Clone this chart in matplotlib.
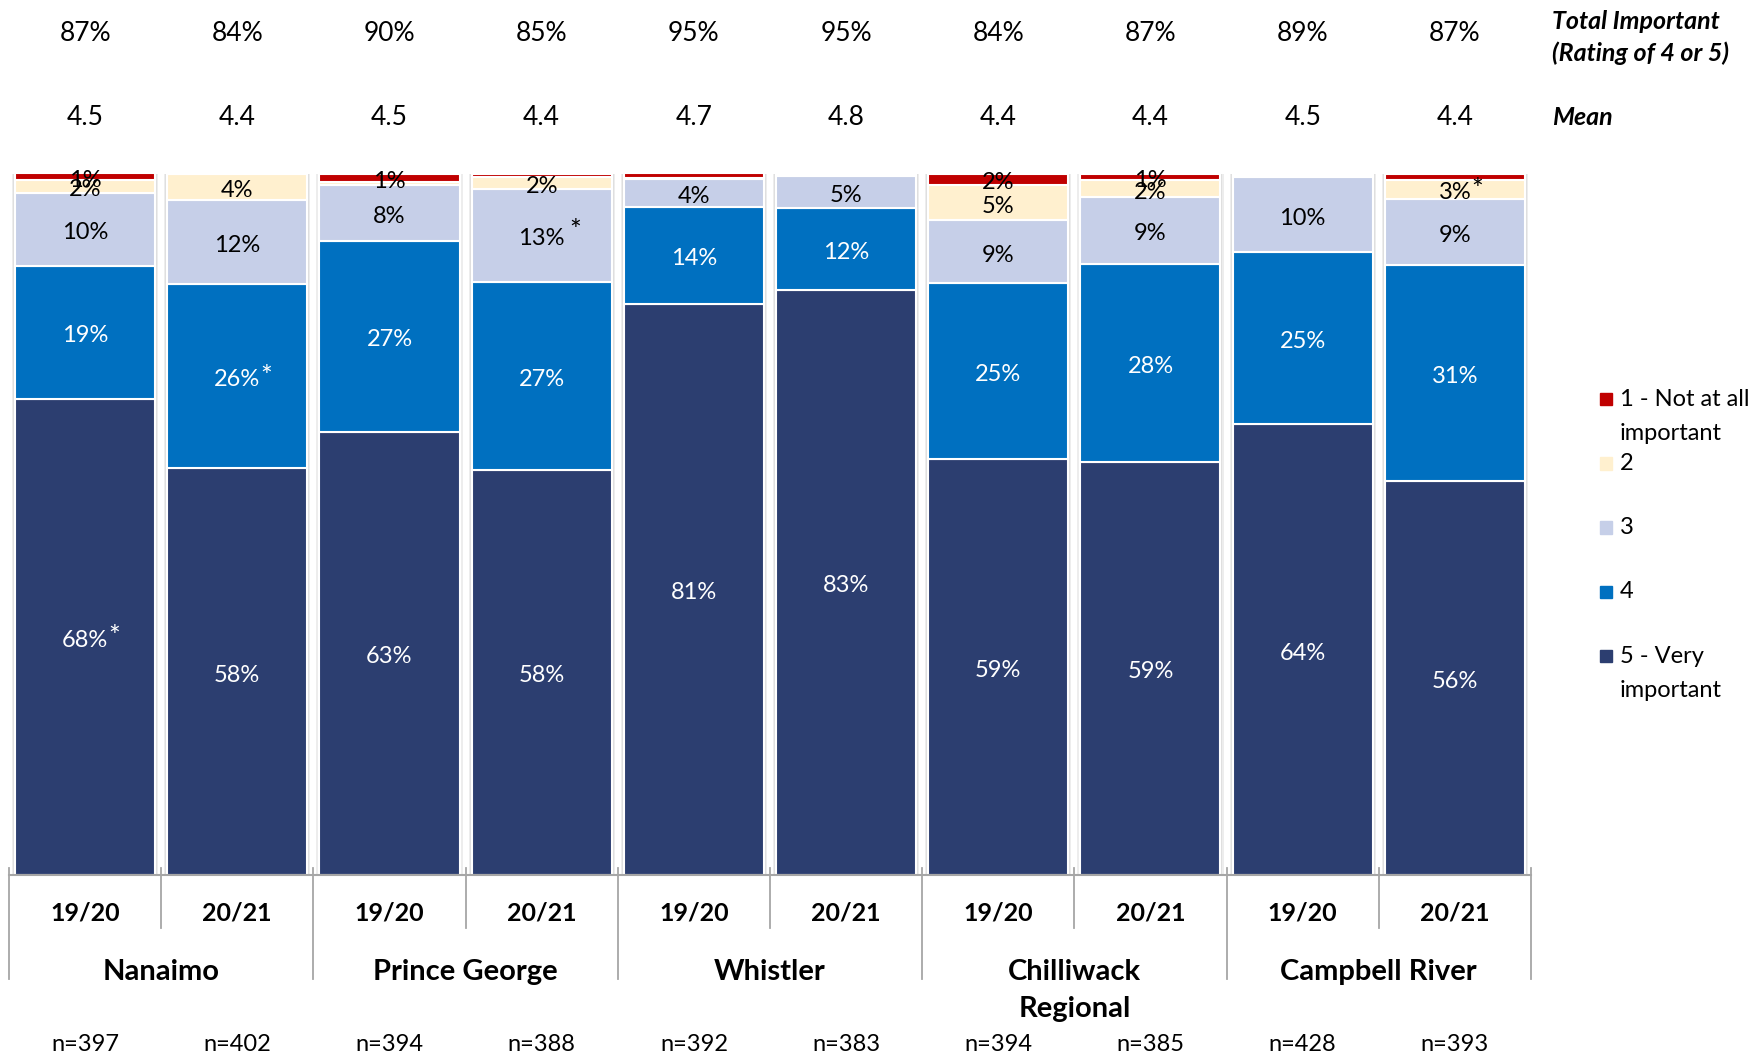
import numpy as np
import matplotlib
matplotlib.use('Agg')
import matplotlib.pyplot as plt
import matplotlib.transforms as mtransforms
from matplotlib.patches import Rectangle

plt.rcParams['font.family'] = ['Lato', 'DejaVu Sans']

# ── Data ──
years = ['19/20', '20/21'] * 5
cities = ['Nanaimo', 'Prince George', 'Whistler', 'Chilliwack\nRegional', 'Campbell River']
sample_n = ['n=397', 'n=402', 'n=394', 'n=388', 'n=392', 'n=383', 'n=394', 'n=385', 'n=428', 'n=393']
total_important = ['87%', '84%', '90%', '85%', '95%', '95%', '84%', '87%', '89%', '87%']
means = ['4.5', '4.4', '4.5', '4.4', '4.7', '4.8', '4.4', '4.4', '4.5', '4.4']

series_names = ['1 - Not at all\nimportant', '2', '3', '4', '5 - Very\nimportant']
colors = ['#C00000', '#FFF0CF', '#C6CFE8', '#0070C0', '#2C3E70']
text_colors = ['black', 'black', 'black', 'white', 'white']

r1 = [1.0, 0.0, 1.1, 0.5, 0.7, 0.0, 1.6, 0.9, 0.3, 0.8]
r2 = [1.8, 3.7, 0.5, 1.6, 0.1, 0.3, 5.0, 2.4, 0.2, 2.7]
r3 = [10.4, 12.0, 7.9, 13.3, 4.0, 4.5, 9.0, 9.5, 10.6, 9.5]
r4 = [19.0, 26.3, 27.3, 26.8, 13.8, 11.7, 25.0, 28.3, 24.6, 30.8]
r5 = [67.9, 58.0, 63.2, 57.8, 81.5, 83.5, 59.4, 58.9, 64.3, 56.2]

lab1 = ['1%', '', '1%', '', '', '', '2%', '1%', '', '']
lab2 = ['2%', '4%', '', '2%', '', '', '5%', '2%', '', '3%']
lab3 = ['10%', '12%', '8%', '13%', '4%', '5%', '9%', '9%', '10%', '9%']
lab4 = ['19%', '26%', '27%', '27%', '14%', '12%', '25%', '28%', '25%', '31%']
lab5 = ['68%', '58%', '63%', '58%', '81%', '83%', '59%', '59%', '64%', '56%']

# significant differences: (bar, series) -> asterisk offset in px
sig = {(0, 4): (29, 2), (1, 3): (29, 2), (3, 2): (34, 7), (9, 1): (22, 1)}

# ── Plot ──
fig = plt.figure(figsize=(17.64, 10.55), dpi=100)
ax = fig.add_axes([0.0051, 0.1706, 0.8628, 0.6645])
ax.set_xlim(-0.5, 9.5)
ax.set_ylim(0, 100)
ax.axis('off')

x = np.arange(len(years))
ax.bar(x, 100.6, width=0.96, color='#ededed', zorder=0)
ax.bar(x, 100.4, width=0.945, color='#dedede', zorder=0)

series = [r1, r2, r3, r4, r5]
labels = [lab1, lab2, lab3, lab4, lab5]

# stack from "5 - Very important" at the bottom up to "1" at the top
LAB_DY = -3.4  # px, nudge labels to sit like the original
bottom = np.zeros(len(years))
for si in range(4, -1, -1):
    vals = np.array(series[si])
    ax.bar(x, vals, width=0.92, bottom=bottom, color=colors[si],
           edgecolor='white', linewidth=1.5, zorder=2)
    for xi, v, b, lab in zip(x, vals, bottom, labels[si]):
        if not lab:
            continue
        ax.annotate(lab, (xi, b + v / 2), xytext=(0, LAB_DY * 0.72),
                    textcoords='offset points', ha='center', va='center',
                    fontsize=17, color=text_colors[si], zorder=5)
        if (xi, si) in sig:
            dx, dy = sig[(xi, si)]
            ax.annotate('*', (xi, b + v / 2), xytext=(dx * 0.72, (dy + LAB_DY) * 0.72),
                        textcoords='offset points', ha='center', va='center',
                        fontsize=20, color=text_colors[si], zorder=5)
    bottom += vals

trans = mtransforms.blended_transform_factory(ax.transData, ax.transAxes)

# category axis grid
ax.plot([-0.5, 9.5], [0, 0], transform=trans, color='#a6a6a6', lw=1.5, clip_on=False)
for k, xv in enumerate(np.arange(-0.5, 10, 1)):
    low = -0.148 if k % 2 == 0 else -0.0756
    ax.plot([xv, xv], [0.01, low], transform=trans, color='#a6a6a6', lw=1.3, clip_on=False)

for xi in x:
    ax.text(xi, 1.2000, total_important[xi], transform=trans, ha='center', va='center', fontsize=19)
    ax.text(xi, 1.0800, means[xi], transform=trans, ha='center', va='center', fontsize=19)
    ax.text(xi, -0.0545, years[xi], transform=trans, ha='center', va='center',
            fontsize=18, fontweight='bold')
    ax.text(xi, -0.2415, sample_n[xi], transform=trans, ha='center', va='center', fontsize=17)

for ci, city in enumerate(cities):
    for k, line in enumerate(city.split('\n')):
        ax.text(2 * ci + 0.5, -0.1385 - k * 0.0528, line, transform=trans,
                ha='center', va='center', fontsize=21, fontweight='bold')

# right-hand headers
fig.text(0.8798, 0.9795, 'Total Important', ha='left', va='center', fontsize=18,
         fontweight='bold', style='italic')
fig.text(0.8798, 0.9492, '(Rating of 4 or 5)', ha='left', va='center', fontsize=18,
         fontweight='bold', style='italic')
fig.text(0.8798, 0.8885, 'Mean', ha='left', va='center', fontsize=18,
         fontweight='bold', style='italic')

# legend
W, H = 1764, 1055
for i, (name, col) in enumerate(zip(series_names, colors)):
    yc = 399 + 64.3 * i
    fig.patches.append(Rectangle((1600 / W, 1 - (yc + 6.2) / H), 12.4 / W, 12.4 / H,
                                 transform=fig.transFigure, color=col))
    for k, line in enumerate(name.split('\n')):
        fig.text(1620 / W, 1 - (yc + 34 * k) / H, line, ha='left', va='center', fontsize=17)

fig.savefig('out.png', dpi=100)
